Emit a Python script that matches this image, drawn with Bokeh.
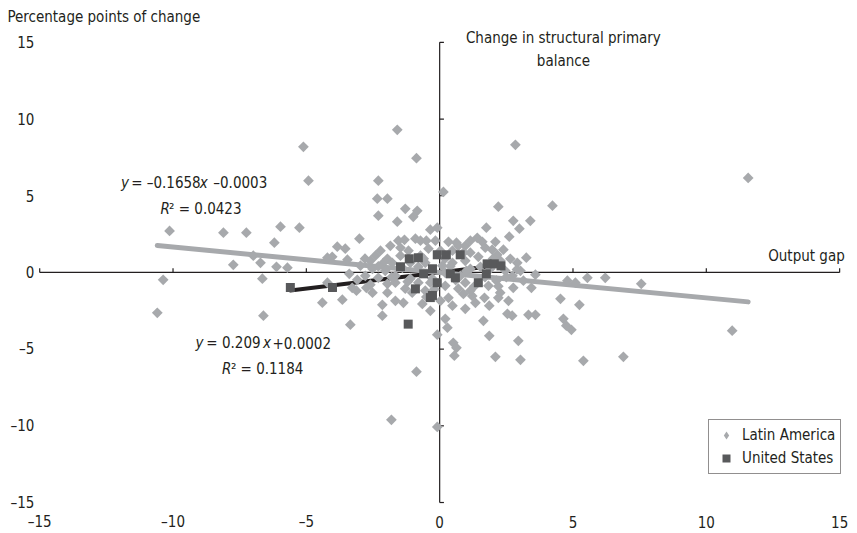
from bokeh.plotting import figure
from bokeh.models import Range1d, Label, Legend, LegendItem, ColumnDataSource
from bokeh.embed import file_html
from bokeh.resources import INLINE
from bokeh.core.properties import value
import numpy as np

# ---------------- data ----------------
la_x = [-10.59, -10.37, -10.13, -8.11, -7.25, -5.97, -6.20, -7.74, -6.99, -6.72,
        -6.12, -6.65, -6.61, -5.71, -5.26, -5.11, -4.92, -1.59, -0.87, -2.30,
        -2.34, -1.96, -2.30, -1.29, -0.84, -0.99, -1.59, -3.01, -3.84, -3.54,
        -1.55, -1.32, -1.47, -0.91, -0.72, -0.35, -0.09, -4.03, -4.21, -3.46,
        -1.96, -2.11, -3.39, -4.21, -3.09, -3.28, -2.75, -1.96, -1.96, -1.66,
        -4.40, -3.65, -3.35, -2.15, -2.15, -1.36, -0.65, -1.66, -0.87, -1.81,
        -0.09, -0.09, 0.29, 0.51, 0.63, 0.55, 0.14, 2.84, 2.20, 4.23,
        2.76, 3.40, 2.99, 1.75, 2.61, 1.41, 1.60, 2.09, 0.33, 0.63,
        0.96, 1.71, 1.97, 2.39, 2.16, 2.91, 3.25, 3.59, 4.79, 5.09,
        5.54, 6.21, 7.56, 11.57, 10.97, 3.44, 2.76, 3.14, 4.53, 5.24,
        2.58, 2.20, 1.68, 1.86, 2.54, 2.72, 3.33, 3.59, 1.64, 4.64,
        4.75, 4.94, 1.86, 2.95, 2.09, 3.03, 5.39, 6.89, 2.27, 0.89,
        1.22, 0.33,
        0.03, 0.48, 1.15, 1.45, 0.96, 0.48, 0.10, 1.15, 1.53, 2.46,
        2.73, 3.03, 2.13, 1.83, 0.96, 0.70, 0.21, 1.15, 0.03, 0.48,
        0.96, 1.34, -0.35, -0.54, -0.80, -1.10, -0.54, -0.80, -1.10, -1.47,
        -1.78, -2.04, -2.30, -2.52, -2.79, -2.60, -2.22, -1.66, -1.29, -1.03,
        -0.72, -0.42, -0.27, 0.21, 0.78, 2.28, 2.65, 1.90, 0.70, 1.15,
        -0.16, -0.50, -1.17, -1.85, -2.41, -2.97, -3.12, -2.52, -0.35, 0.21,
        -2.80, -2.60, -1.40, -0.60, 0.40, 1.00, 1.70, 2.20, 2.50, 1.30,
        0.60, -0.20, -1.20, -1.80, -2.30, 0.20, 0.90, 2.00, 2.90, -0.50]
la_y = [-2.63, -0.48, 2.71, 2.59, 2.59, 2.98, 1.94, 0.50, 1.09, 0.63,
        0.37, -0.41, -2.82, 0.31, 2.92, 8.19, 5.98, 9.30, 7.45, 5.98,
        4.81, 4.81, 3.70, 4.15, 4.02, 3.63, 3.31, 2.20, 1.68, 1.55,
        2.07, 2.13, 1.61, 2.20, 2.07, 2.79, 2.92, 1.02, 0.96, 0.83,
        0.89, 0.63, -0.09, -0.67, -0.48, -1.00, -1.00, -0.74, -1.32, -0.67,
        -1.97, -1.78, -3.41, -2.11, -2.82, -1.98, -2.05, -1.85, -6.47, -9.61,
        -10.07, -4.06, -3.60, -4.59, -4.91, -5.43, 5.25, 8.32, 4.29, 4.35,
        3.37, 3.37, 2.85, 2.92, 2.33, 2.26, 2.00, 2.00, 2.00, 1.94,
        1.74, 1.61, 1.48, 1.48, 1.15, 0.63, 0.96, -0.15, -0.54, -0.67,
        -0.35, -0.35, -0.74, 6.16, -3.80, -1.00, -1.00, -0.54, -1.72, -2.11,
        -1.85, -1.65, -1.65, -2.17, -2.70, -2.82, -2.76, -2.76, -3.15, -3.02,
        -3.47, -3.74, -4.13, -4.46, -5.50, -5.70, -5.76, -5.50, -1.32, -1.40,
        -1.53, -1.65,
        1.42, 1.42, 1.29, 1.02, 0.76, 0.63, 0.44, 0.24, 0.37, 0.11,
        -0.22, 0.11, -0.54, -0.87, -0.67, -1.06, -0.87, -1.19, -1.85, -2.17,
        -2.37, -1.98, -0.67, -1.19, -0.67, -0.41, 0.63, 0.37, 0.63, 1.09,
        0.63, 0.11, -0.35, 0.24, -0.22, 0.76, 1.42, -0.22, -1.06, -1.32,
        1.09, 1.55, -0.41, -0.02, -0.22, 0.76, 0.89, 0.24, 1.74, 2.07,
        2.07, 2.07, 1.42, 1.74, 1.09, 0.44, -1.19, -1.32, -2.50, -3.02,
        0.90, -0.80, 0.30, 0.90, 0.40, 0.10, -0.30, -0.90, -0.30, -0.90,
        -0.50, -1.10, -0.60, -0.30, 0.40, 0.90, 1.30, 0.90, 0.20, -1.60]

us_x = [-5.60, -4.02, -1.47, -1.14, -0.80, -0.91, -1.18, -0.35, -0.09, 0.25,
        0.77, -0.27, -0.60, -0.09, 0.40, 0.59, 1.78, 2.05, 2.30, 1.75,
        1.45, -0.27]
us_y = [-0.98, -0.98, 0.37, 0.89, 0.96, -1.07, -3.37, -1.64, 1.15, 1.15,
        1.15, 0.24, -0.09, -0.67, -0.09, -0.35, 0.56, 0.56, 0.43, -0.09,
        -0.67, -1.50]

la_slope, la_intercept = -0.1658, -0.0003
us_slope, us_intercept = 0.209, 0.0002

x_ticks = [-15, -10, -5, 0, 5, 10, 15]
y_ticks = [-15, -10, -5, 0, 5, 10, 15]
tick_text = {-15: "–15", -10: "–10", -5: "–5", 0: "0", 5: "5", 10: "10", 15: "15"}

series_names = ["Latin America", "United States"]

# ---------------- style ----------------
FONT = "DejaVu Sans Condensed"
TXT = "#231f20"
LA_COL = "#a7a9ac"
US_COL = "#58595b"
FS = "15px"

p = figure(width=857, height=533, x_range=Range1d(-16.47, 15.67), y_range=Range1d(-17.02, 17.73),
           output_backend="svg", toolbar_location=None, x_axis_location=None, y_axis_location=None,
           min_border_left=0, min_border_right=0, min_border_top=0, min_border_bottom=0)
p.grid.visible = False
p.outline_line_color = None
p.background_fill_color = "white"
p.border_fill_color = "white"

# tick labels around the plotting area
p.text(x=[-15.20] * len(y_ticks), y=y_ticks, text=[tick_text[t] for t in y_ticks],
       text_font=value(FONT), text_font_size=FS, text_color=TXT,
       text_align="right", text_baseline="middle")
p.text(x=x_ticks, y=[-16.26] * len(x_ticks), text=[tick_text[t] for t in x_ticks],
       text_font=value(FONT), text_font_size=FS, text_color=TXT,
       text_align="center", text_baseline="middle")

# zero axes with ticks
p.segment(x0=[x_ticks[0]], y0=[0], x1=[x_ticks[-1]], y1=[0], line_color=TXT, line_width=1.2)
p.segment(x0=[0], y0=[y_ticks[0]], x1=[0], y1=[y_ticks[-1]], line_color=TXT, line_width=1.2)
p.segment(x0=x_ticks, y0=[0] * len(x_ticks), x1=x_ticks, y1=[0.28] * len(x_ticks),
          line_color=TXT, line_width=1.2)
p.segment(x0=[0] * len(y_ticks), y0=y_ticks, x1=[0.16] * len(y_ticks), y1=y_ticks,
          line_color=TXT, line_width=1.2)

# trend lines
lx = np.array([min(la_x), max(la_x)])
ux = np.array([min(us_x), max(us_x)])
p.line(ux, us_slope * ux + us_intercept, line_color=TXT, line_width=4, line_cap="round")
p.line(lx, la_slope * lx + la_intercept, line_color=LA_COL, line_width=5, line_cap="round")

# points
la_src = ColumnDataSource(dict(x=la_x, y=la_y))
us_src = ColumnDataSource(dict(x=us_x, y=us_y))
p.scatter("x", "y", source=la_src, marker="square", size=7.6, angle=np.pi / 4,
          fill_color=LA_COL, line_color=None)
us_r = p.scatter("x", "y", source=us_src, marker="square", size=9, fill_color=US_COL, line_color=None)

# legend: LA entry uses a zero-size diamond glyph on the same data (only visible in the legend)
leg_la = p.scatter("x", "y", source=la_src, marker="diamond", size=0,
                   fill_color=LA_COL, line_color=None)
legend = Legend(items=[LegendItem(label=series_names[0], renderers=[leg_la]),
                       LegendItem(label=series_names[1], renderers=[us_r])],
                location=(708, 59), padding=5, spacing=3, glyph_width=24, glyph_height=20,
                label_height=20, label_standoff=4, margin=0,
                border_line_color=TXT, border_line_width=1,
                label_text_font=FONT, label_text_font_size=FS, label_text_color=TXT,
                background_fill_color="white", background_fill_alpha=1)
p.add_layout(legend)


def lab(x, y, text, style="normal", align="left"):
    p.add_layout(Label(x=x, y=y, text=text, text_font=FONT, text_font_size=FS,
                       text_font_style=style, text_color=TXT, text_align=align,
                       text_baseline="middle"))


lab(-16.21, 16.67, "Percentage points of change")
lab(4.64, 15.30, "Change in structural primary", align="center")
lab(4.64, 13.80, "balance", align="center")
lab(12.32, 1.09, "Output gap")

# equation 1
lab(-11.95, 5.85, "y", style="italic")
lab(-11.57, 5.85, "= –0.1658")
lab(-9.00, 5.85, "x", style="italic")
lab(-8.49, 5.85, "–0.0003")
lab(-10.47, 4.15, "R", style="italic")
lab(-10.15, 4.15, "² = 0.0423")
# equation 2
lab(-9.16, -4.59, "y", style="italic")
lab(-8.75, -4.59, "= 0.209")
lab(-6.63, -4.59, "x", style="italic")
lab(-6.27, -4.59, "+0.0002")
lab(-8.16, -6.28, "R", style="italic")
lab(-7.83, -6.28, "² = 0.1184")

open("out.html", "w").write(file_html(p, INLINE))
